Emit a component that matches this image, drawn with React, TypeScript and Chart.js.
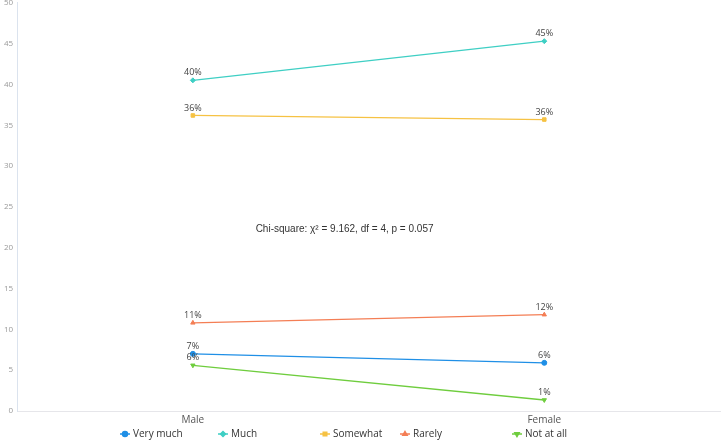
import React, { useEffect, useRef } from "react";
import { Chart, registerables } from "chart.js";
import { drawPoint } from "chart.js/helpers";
Chart.register(...registerables);

const categories = ["Male", "Female"];
const seriesNames = ["Very much", "Much", "Somewhat", "Rarely", "Not at all"];
const veryMuch = [7.0, 5.9];
const much = [40.5, 45.3];
const somewhat = [36.2, 35.7];
const rarely = [10.8, 11.8];
const notAtAll = [5.6, 1.35];
const pointLabels = [
  ["7%", "6%"],
  ["40%", "45%"],
  ["36%", "36%"],
  ["11%", "12%"],
  ["6%", "1%"],
];
const annotation = "Chi-square: χ² = 9.162, df = 4, p = 0.057";
const annotationY = 22.3;

const colors = ["#1f8fe6", "#3fcfc4", "#f6c243", "#f47e55", "#6fcd3e"];
const styles = ["circle", "rectRot", "rect", "triangle", "triangle"];
const rotations = [0, 0, 0, 0, 180];
const legendX = [120, 218, 320, 400, 512];

const labelPlugin = {
  id: "pointLabels",
  afterDatasetsDraw(chart: any) {
    const ctx = chart.ctx;
    ctx.save();
    ctx.font = "9px 'Open Sans', sans-serif";
    ctx.fillStyle = "#444";
    ctx.textAlign = "center";
    ctx.textBaseline = "bottom";
    chart.data.datasets.forEach((ds: any, i: number) => {
      const meta = chart.getDatasetMeta(i);
      meta.data.forEach((pt: any, j: number) => {
        ctx.fillText(pointLabels[i][j], pt.x, pt.y - 3);
      });
    });
    const area = chart.chartArea;
    const y = chart.scales.y.getPixelForValue(annotationY);
    ctx.font = "10px 'Liberation Sans', sans-serif";
    ctx.fillStyle = "#333";
    ctx.textBaseline = "middle";
    ctx.fillText(annotation, (area.left + area.right) / 2 - 24, y);

    // legend
    const ly = chart.height - 6;
    ctx.textAlign = "left";
    ctx.font = "10px 'Open Sans', sans-serif";
    seriesNames.forEach((name, i) => {
      const x = legendX[i];
      ctx.strokeStyle = colors[i];
      ctx.lineWidth = 1.5;
      ctx.beginPath();
      ctx.moveTo(x, ly);
      ctx.lineTo(x + 10, ly);
      ctx.stroke();
      ctx.fillStyle = colors[i];
      drawPoint(ctx, { pointStyle: styles[i], radius: 2.5, rotation: rotations[i], borderWidth: 1 } as any, x + 5, ly);
      ctx.fillStyle = "#333";
      ctx.fillText(name, x + 13, ly);
    });
    ctx.restore();
  },
};

export default function App() {
  const ref = useRef<HTMLCanvasElement>(null);
  useEffect(() => {
    const data = [veryMuch, much, somewhat, rarely, notAtAll];
    const chart = new Chart(ref.current!, {
      type: "line",
      data: {
        labels: categories,
        datasets: data.map((d, i) => ({
          label: seriesNames[i],
          data: d,
          borderColor: colors[i],
          backgroundColor: colors[i],
          borderWidth: 1.3,
          pointStyle: styles[i] as any,
          rotation: rotations[i],
          pointRadius: 2.5,
          pointBorderWidth: 1,
          fill: false,
          tension: 0,
        })),
      },
      options: {
        animation: false,
        responsive: false,
        maintainAspectRatio: false,
        layout: { padding: { top: 0, right: 3, left: 0, bottom: 11 } },
        plugins: {
          legend: { display: false },
          tooltip: { enabled: false },
        },
        scales: {
          x: {
            offset: true,
            grid: { display: false, drawTicks: false },
            border: { color: "#e6e6ea" },
            ticks: { color: "#555", padding: 3, font: { size: 10, family: "'Open Sans', sans-serif" } },
          },
          y: {
            min: 0,
            max: 50,
            grid: { display: false, drawTicks: false },
            border: { color: "#dbe3ee" },
            ticks: { stepSize: 5, color: "#999", padding: 4, font: { size: 8, family: "'Open Sans', sans-serif" } },
          },
        },
      },
      plugins: [labelPlugin],
    });
    return () => chart.destroy();
  }, []);
  return (
    <div style={{ position: "fixed", left: 0, top: 0, width: 725, height: 440, background: "#fff", overflow: "hidden" }}>
      <canvas ref={ref} width={725} height={446} style={{ position: "absolute", left: 0, top: -6 }} />
    </div>
  );
}
